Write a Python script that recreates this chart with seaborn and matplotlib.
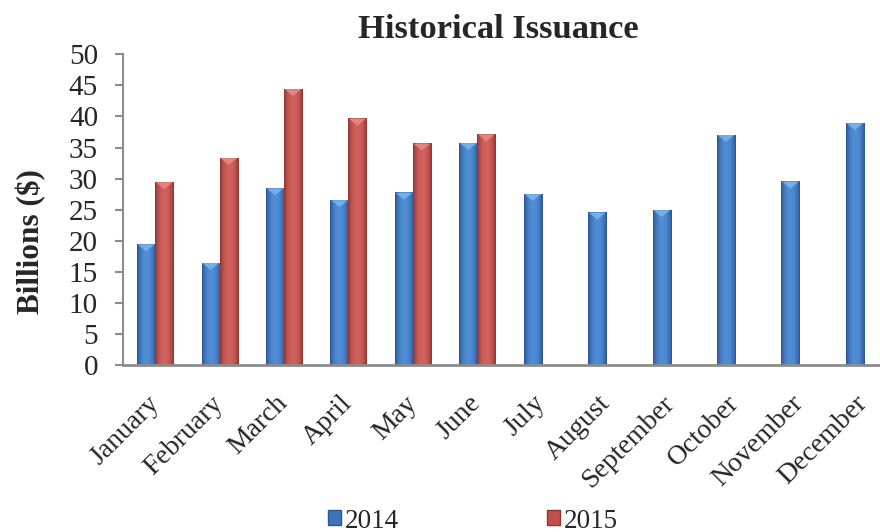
import numpy as np
import pandas as pd
import matplotlib
matplotlib.use("Agg")
import matplotlib.pyplot as plt
import seaborn as sns
from matplotlib.patches import Polygon, Patch
from matplotlib.colors import to_rgb
from matplotlib.transforms import ScaledTranslation

months = ["January", "February", "March", "April", "May", "June",
          "July", "August", "September", "October", "November", "December"]
issuance_2014 = [19.4, 16.4, 28.4, 26.5, 27.7, 35.7, 27.5, 24.5, 24.9, 37.0, 29.5, 38.9]
issuance_2015 = [29.4, 33.3, 44.4, 39.6, 35.6, 37.1, np.nan, np.nan, np.nan, np.nan, np.nan, np.nan]
years = ["2014", "2015"]
y_ticks = [0, 5, 10, 15, 20, 25, 30, 35, 40, 45, 50]

colors = {"2014": "#3F75B8", "2015": "#C0504D"}
edge_cols = {"2014": "#2A5590", "2015": "#913532"}
center_cols = {"2014": "#4F8DD6", "2015": "#D2625E"}
cap_cols = {"2014": "#79B6F0", "2015": "#EC8A86"}

df = pd.DataFrame({
    "Month": months * 2,
    "Year": ["2014"] * 12 + ["2015"] * 12,
    "Value": issuance_2014 + issuance_2015,
}).dropna()

sns.set_style("white")
plt.rcParams["font.family"] = ["Liberation Serif", "DejaVu Serif"]

fig = plt.figure(figsize=(8.8, 5.32), dpi=100)
W, H = 880, 532
x0, x1 = 123, 880
y0, y1 = 365, 54.3
ax = fig.add_axes([x0 / W, 1 - y0 / H, (x1 - x0) / W, (y0 - y1) / H])

sns.barplot(data=df, x="Month", y="Value", hue="Year", order=months,
            hue_order=years, palette=colors, width=0.56, gap=0,
            ax=ax, legend=False, saturation=1, linewidth=0)

# gradient shading on each bar
t = np.linspace(0, 1, 64)
prof = 1 - np.abs(2 * t - 1) ** 2.2
bars = list(ax.patches)
for p in bars:
    h = p.get_height()
    if not np.isfinite(h) or h <= 0:
        continue
    fc = p.get_facecolor()[:3]
    key = "2014" if np.allclose(fc, to_rgb(colors["2014"]), atol=0.02) else "2015"
    e = np.array(to_rgb(edge_cols[key]))
    c = np.array(to_rgb(center_cols[key]))
    img = e[None, :] + (c - e)[None, :] * prof[:, None]
    img = img[None, :, :]
    x = p.get_x()
    w = p.get_width()
    ax.imshow(img, extent=[x, x + w, 0, h], aspect="auto", zorder=3,
              interpolation="bilinear")
    tri = Polygon([[x + 0.01, h], [x + w - 0.01, h], [x + w / 2, h - 1.1]],
                  closed=True, facecolor=cap_cols[key], edgecolor="none",
                  alpha=0.85, zorder=4)
    ax.add_patch(tri)

ax.set_xlim(-0.5, 11.25)
ax.set_ylim(0, 50)
ax.set_yticks(y_ticks)
ax.set_yticklabels([str(v) for v in y_ticks], fontsize=21)
ax.set_xticks(range(len(months)))
ax.set_xticklabels(months, fontsize=20, rotation=45, ha="right",
                   rotation_mode="anchor", va="center")
shift = ScaledTranslation(-5 / 72, 0, fig.dpi_scale_trans)
for lab in ax.get_xticklabels():
    lab.set_transform(lab.get_transform() + shift)
ax.tick_params(axis="x", length=0, pad=25)
ax.tick_params(axis="y", length=6, width=1.5, color="#8C8C8C", pad=12,
               left=True, direction="out")
ax.set_xlabel("")
ax.set_ylabel("Billions ($)", fontsize=22.5, fontweight="bold")
ax.yaxis.set_label_coords((46 - x0) / (x1 - x0), (y0 - 242) / (y0 - y1))

for s in ["top", "right"]:
    ax.spines[s].set_visible(False)
ax.spines["left"].set_color("#8C8C8C")
ax.spines["left"].set_linewidth(1.5)
ax.spines["bottom"].set_color("#8C8C8C")
ax.spines["bottom"].set_linewidth(2)
ax.spines["bottom"].set_zorder(5)

fig.text(498 / W, 1 - 30 / H, "Historical Issuance", fontsize=24.8,
         fontweight="bold", ha="center", va="center")

handles = [Patch(facecolor=colors[y], edgecolor=edge_cols[y], label=y) for y in years]
fig.legend(handles=handles, loc="center", bbox_to_anchor=(473 / W, 1 - 521 / H),
           ncol=2, frameon=False, fontsize=19.5, handlelength=0.48,
           handleheight=0.48, handletextpad=0.15, columnspacing=5.45,
           borderpad=0)

fig.savefig("out.png", dpi=100)
